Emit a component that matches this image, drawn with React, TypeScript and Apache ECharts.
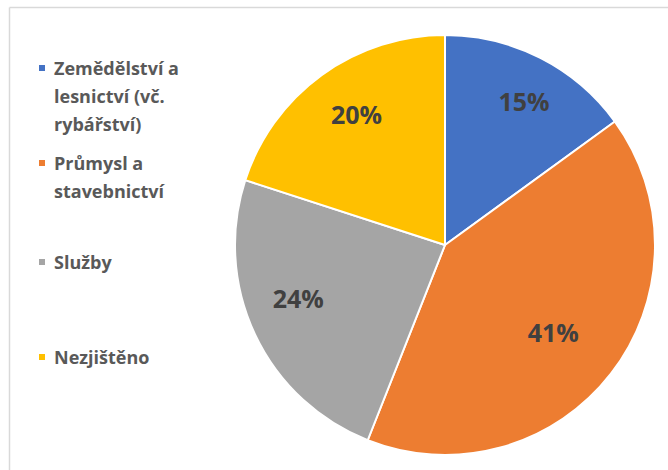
import React, { useEffect, useRef } from "react";
import * as echarts from "echarts";

const categories = [
  "Zemědělství a lesnictví (vč. rybářství)",
  "Průmysl a stavebnictví",
  "Služby",
  "Nezjištěno",
];
const shares = [15, 41, 24, 20];
const colors = ["#4472C4", "#ED7D31", "#A5A5A5", "#FFC000"];

export default function App() {
  const ref = useRef<HTMLDivElement>(null);
  useEffect(() => {
    if (!ref.current) return;
    const chart = echarts.init(ref.current, null, { renderer: "svg" });
    const font = "'Open Sans', 'DejaVu Sans', sans-serif";
    const lineH = 28;
    const labelNudges = [
      [30, -48],
      [23, 21],
      [-49, 7],
      [-25, -44],
    ];
    // line breaks as in the reference legend
    const wrapAfter: Record<string, string[]> = {
      [categories[0]]: ["Zemědělství a", "lesnictví (vč.", "rybářství)"],
      [categories[1]]: ["Průmysl a", "stavebnictví"],
    };
    // blank lines above push the first text line level with the marker
    const fmt = (n: string) => {
      const lines = wrapAfter[n] || [n];
      return "\n".repeat(lines.length - 1) + lines.map((l) => `{t|${l}}`).join("\n");
    };
    const txt = {
      color: "#595959",
      fontFamily: font,
      fontWeight: "bold",
      fontSize: 18,
      lineHeight: lineH,
    };
    const legendTops = [-2, 121, 248, 343];
    chart.setOption({
      animation: false,
      backgroundColor: "#ffffff",
      color: colors,
      graphic: [
        {
          type: "line",
          shape: { x1: 9.5, y1: 7.5, x2: 668, y2: 7.5 },
          style: { stroke: "#d9d9d9", lineWidth: 1.5 },
        },
        {
          type: "line",
          shape: { x1: 9.5, y1: 7.5, x2: 9.5, y2: 470 },
          style: { stroke: "#d9d9d9", lineWidth: 1.5 },
        },
      ],
      legend: categories.map((name, i) => ({
        data: [name],
        orient: "vertical",
        left: 37,
        top: legendTops[i],
        padding: 0,
        icon: "rect",
        itemWidth: 8,
        itemHeight: 8,
        selectedMode: false,
        formatter: fmt,
        textStyle: {
          ...txt,
          rich: { t: { ...txt, padding: [0, 0, 0, 3] } },
        },
      })),
      series: [
        {
          type: "pie",
          center: [445, 245],
          radius: 210,
          startAngle: 90,
          clockwise: true,
          itemStyle: { borderColor: "#ffffff", borderWidth: 2 },
          label: {
            show: true,
            position: "inside",
            formatter: "{d}%",
            color: "#404040",
            fontFamily: font,
            fontWeight: "bold",
            fontSize: 25,
          },
          labelLine: { show: false },
          emphasis: { disabled: true },
          data: categories.map((name, i) => ({
            name,
            value: shares[i],
            label: { offset: labelNudges[i] },
          })),
        },
      ],
    });
    return () => chart.dispose();
  }, []);
  return (
    <div
      ref={ref}
      style={{ position: "absolute", left: 0, top: 0, width: 668, height: 470 }}
    />
  );
}
